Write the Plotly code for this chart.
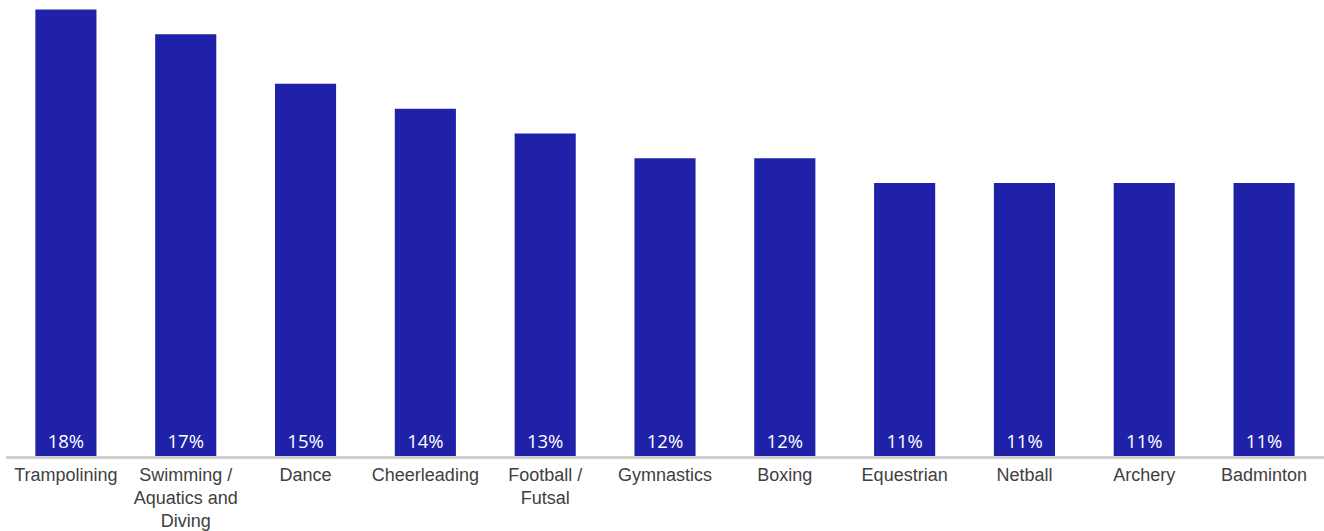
import plotly.graph_objects as go

# Share of participants by activity (%)
categories = [
    "Trampolining",
    "Swimming /<br>Aquatics and<br>Diving",
    "Dance",
    "Cheerleading",
    "Football /<br>Futsal",
    "Gymnastics",
    "Boxing",
    "Equestrian",
    "Netball",
    "Archery",
    "Badminton",
]
values = [18, 17, 15, 14, 13, 12, 12, 11, 11, 11, 11]

fig = go.Figure(
    go.Bar(
        x=categories,
        y=values,
        marker=dict(color="#1f22a8", line=dict(width=0)),
        text=[f"{v}%" for v in values],
        textposition="inside",
        insidetextanchor="start",
        textangle=0,
        constraintext="none",
        textfont=dict(family="Open Sans", size=18.5, color="white"),
        hoverinfo="skip",
    )
)

fig.update_layout(
    width=1324,
    height=531,
    margin=dict(l=6, r=0, t=0, b=75),
    paper_bgcolor="white",
    plot_bgcolor="white",
    bargap=0.49,
    showlegend=False,
    xaxis=dict(
        automargin=False,
        showline=True,
        linecolor="#d0d0d0",
        linewidth=3,
        showgrid=False,
        ticks="",
        tickfont=dict(family="Liberation Sans", size=18, color="#404040"),
    ),
    yaxis=dict(
        range=[0, 18.38],
        visible=False,
        showgrid=False,
        zeroline=False,
    ),
)

fig.write_html("out.html")
